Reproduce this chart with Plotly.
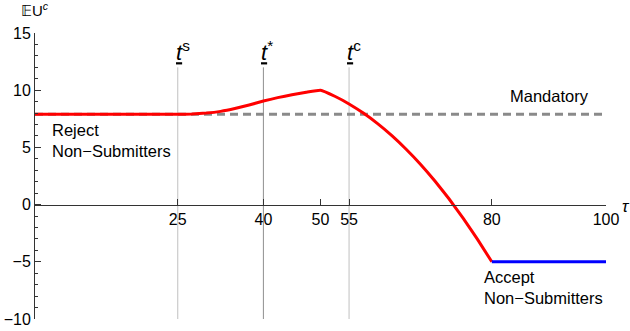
import plotly.graph_objects as go

# Data
tau_red = [0, 25, 27.5, 30, 32.5, 35, 37.5, 40, 42.5, 45, 47.5, 50,
           52.5, 55, 57.5, 60, 62.5, 65, 67.5, 70, 72.5, 75, 77.5, 80]
eu_red = [7.9, 7.9, 7.92, 8.0, 8.15, 8.4, 8.71, 9.05, 9.35, 9.6, 9.82, 10.0,
          9.47, 8.8, 8.0, 7.08, 6.03, 4.84, 3.53, 2.08, 0.51, -1.2, -3.04, -5.0]
tau_blue = [80, 100]
eu_blue = [-5, -5]
tau_mand = [0, 100]
eu_mand = [7.9, 7.9]
vlines = [25, 40, 55]
vline_labels = ["s", "*", "c"]
vline_colors = ["#c0c0c0", "#909090", "#c0c0c0"]
x_ticks = [25, 40, 50, 55, 80, 100]
y_ticks = [-10, -5, 0, 5, 10, 15]
y_tick_text = ["\u221210", "\u22125", "0", "5", "10", "15"]

FONT = "Liberation Sans, Arial, sans-serif"

fig = go.Figure()

for v, c in zip(vlines, vline_colors):
    fig.add_trace(go.Scatter(x=[v, v], y=[-10, 12], mode="lines",
                             line=dict(color=c, width=1), hoverinfo="skip"))

fig.add_trace(go.Scatter(x=tau_mand, y=eu_mand, mode="lines",
                         line=dict(color="#8a8a8a", width=3, dash="8px,5px")))
fig.add_trace(go.Scatter(x=tau_red, y=eu_red, mode="lines",
                         line=dict(color="#ff0000", width=3, shape="spline", smoothing=0.3)))
fig.add_trace(go.Scatter(x=tau_blue, y=eu_blue, mode="lines",
                         line=dict(color="#0000ff", width=3)))

annotations = []
for v, lab in zip(vlines, vline_labels):
    annotations.append(dict(x=v, y=12, xref="x", yref="y", xanchor="left", yanchor="bottom",
                            xshift=-4, yshift=0, showarrow=False,
                            text="<u><i>t</i></u><sup>" + lab + "</sup>",
                            font=dict(family=FONT, size=22, color="black")))

annotations += [
    dict(x=2.6, y=7.5, xref="x", yref="y", xanchor="left", yanchor="top", align="left",
         showarrow=False, text="Reject<br>Non\u2212Submitters",
         font=dict(family=FONT, size=16.5, color="black")),
    dict(x=82.9, y=8.5, xref="x", yref="y", xanchor="left", yanchor="bottom", align="left",
         showarrow=False, text="Mandatory",
         font=dict(family=FONT, size=16.5, color="black")),
    dict(x=78.3, y=-5.4, xref="x", yref="y", xanchor="left", yanchor="top", align="left",
         showarrow=False, text="Accept<br>Non\u2212Submitters",
         font=dict(family=FONT, size=16.5, color="black")),
    dict(x=0, y=1, xref="paper", yref="paper", xanchor="center", yanchor="bottom",
         yshift=12, showarrow=False, text="\U0001D53CU<sup><i>c</i></sup>",
         font=dict(family=FONT, size=15, color="black")),
    dict(x=1, y=0, xref="paper", yref="y", xanchor="left", yanchor="middle",
         xshift=14, yshift=-2, showarrow=False, text="<i>\u03c4</i>",
         font=dict(family=FONT, size=17, color="black")),
]

fig.update_layout(
    width=630, height=331,
    margin=dict(l=35, r=24, t=33, b=12),
    paper_bgcolor="white", plot_bgcolor="white",
    showlegend=False,
    annotations=annotations,
    xaxis=dict(range=[0, 100], tickmode="array", tickvals=x_ticks,
               ticks="inside", ticklen=6, tickcolor="#333", showline=True,
               linecolor="#333", linewidth=1, showgrid=False, zeroline=False,
               anchor="free", position=0.4, automargin=False,
               tickfont=dict(family=FONT, size=16, color="black")),
    yaxis=dict(range=[-10, 15], tickmode="array", tickvals=y_ticks, ticktext=y_tick_text,
               ticks="inside", ticklen=6, tickcolor="#333", showline=True,
               linecolor="#333", linewidth=1, showgrid=False, zeroline=False,
               automargin=False,
               minor=dict(dtick=1, ticks="inside", ticklen=3, tickcolor="#333", showgrid=False),
               tickfont=dict(family=FONT, size=16, color="black")),
)

fig.write_html("out.html", config={"displayModeBar": False},
               post_script="document.body.style.margin='0';document.body.style.overflow='hidden';")
